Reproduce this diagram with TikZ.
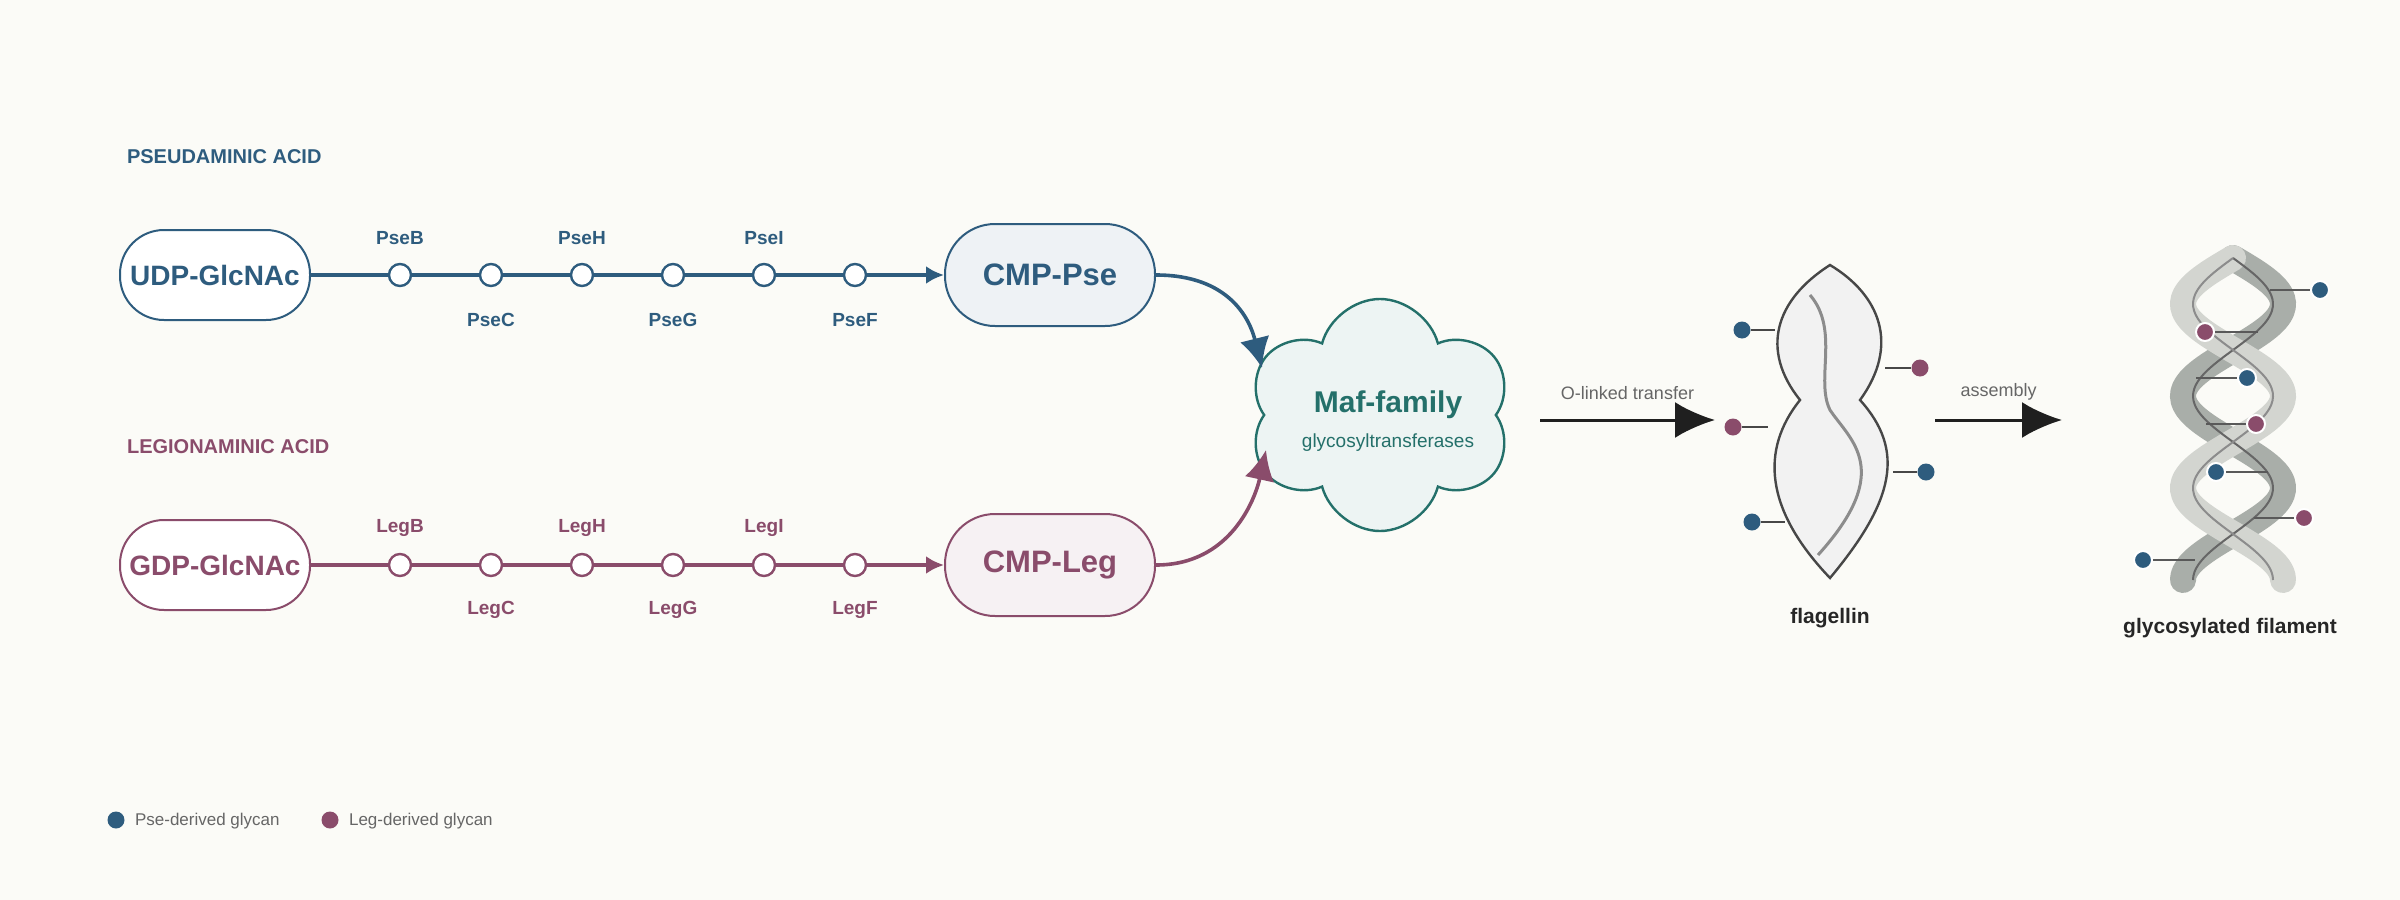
\documentclass[tikz,border=0pt]{standalone}
\usepackage{fontspec}
\setmainfont{Liberation Sans}
\usetikzlibrary{arrows.meta,shapes.symbols}
\definecolor{pseblue}{HTML}{2E5C7E}
\definecolor{legpink}{HTML}{8A4C6B}
\definecolor{mafteal}{HTML}{24706A}
\definecolor{bgpaper}{HTML}{FBFBF7}
\definecolor{txtgray}{HTML}{666666}
\definecolor{strandlight}{HTML}{D3D5D0}
\definecolor{stranddark}{HTML}{A9AEA9}
\tikzset{
	pathtitle/.style={anchor=west,font=\fontsize{10}{12}\selectfont\bfseries},
	sugarbox/.style={draw,rounded corners=22pt,line width=1pt,minimum width=95pt,minimum height=45pt,font=\fontsize{14}{16}\selectfont\bfseries},
	cmpbox/.style={draw,rounded corners=25pt,line width=1pt,minimum width=105pt,minimum height=51pt,font=\fontsize{15.5}{18}\selectfont\bfseries},
	enzdot/.style={circle,draw,fill=white,line width=1.2pt,minimum size=11pt,inner sep=0pt},
	enzlabel/.style={font=\fontsize{9.5}{11}\selectfont\bfseries},
	glydot/.style={circle,fill=#1,minimum size=8.5pt,inner sep=0pt},
	glyring/.style={circle,fill=#1,draw=white,line width=1pt,minimum size=9pt,inner sep=0pt},
	steparrow/.style={line width=1.5pt,-{Latex[length=20pt,width=18pt]}},
	steplabel/.style={font=\fontsize{9}{11}\selectfont,text=txtgray},
	caption/.style={font=\fontsize{10.5}{12}\selectfont\bfseries,text=black!85}
}
\begin{document}
\begin{tikzpicture}[x=0.5pt,y=-0.5pt]
	\fill[bgpaper] (0,0) rectangle (2400,900);
	% pseudaminic acid branch
	\node[pathtitle,text=pseblue] (pt) at (120,157) {PSEUDAMINIC ACID};
	\node[sugarbox,draw=pseblue,text=pseblue,fill=white] (udp) at (215,275) {UDP-GlcNAc};
	\node[cmpbox,draw=pseblue,text=pseblue,fill=pseblue!8] (cpse) at (1050,275) {CMP-Pse};
	\draw[pseblue,line width=2pt,-{Latex[length=9pt,width=9pt]}] (udp) -- (cpse);
	\foreach \x/\name/\lab [count=\i] in {400/pb/PseB,491/pc/PseC,582/ph/PseH,673/pg/PseG,764/pi/PseI,855/pf/PseF}{
		\node[enzdot,draw=pseblue] (\name) at (\x,275) {};
		\ifodd\i
			\node[enzlabel,text=pseblue] at (\x,238) {\lab};
		\else
			\node[enzlabel,text=pseblue] at (\x,320) {\lab};
		\fi
	}
	% legionaminic acid branch
	\node[pathtitle,text=legpink] (lt) at (120,447) {LEGIONAMINIC ACID};
	\node[sugarbox,draw=legpink,text=legpink,fill=white] (gdp) at (215,565) {GDP-GlcNAc};
	\node[cmpbox,draw=legpink,text=legpink,fill=legpink!8] (cleg) at (1050,565) {CMP-Leg};
	\draw[legpink,line width=2pt,-{Latex[length=9pt,width=9pt]}] (gdp) -- (cleg);
	\foreach \x/\name/\lab [count=\i] in {400/lb/LegB,491/lc/LegC,582/lh/LegH,673/lg/LegG,764/li/LegI,855/lf/LegF}{
		\node[enzdot,draw=legpink] (\name) at (\x,565) {};
		\ifodd\i
			\node[enzlabel,text=legpink] at (\x,528) {\lab};
		\else
			\node[enzlabel,text=legpink] at (\x,610) {\lab};
		\fi
	}
	% glycosyltransferase
	\node[cloud,cloud puffs=6,aspect=1.15,draw=mafteal,fill=mafteal!8,line width=1.2pt,minimum width=132pt,minimum height=116pt] (maf) at (1380,415) {};
	\node[font=\fontsize{15}{17}\selectfont\bfseries,text=mafteal] (maft) at (1388,405) {Maf-family};
	\node[font=\fontsize{9.5}{11}\selectfont,text=mafteal] (mafs) at (1388,443) {glycosyltransferases};
	\draw[pseblue,line width=1.8pt,-{Latex[length=15pt,width=15pt]}] (cpse.east) .. controls (1230,275) and (1250,320) .. (1262,368);
	\draw[legpink,line width=1.8pt,-{Latex[length=15pt,width=15pt]}] (cleg.east) .. controls (1230,565) and (1255,500) .. (1266,450);
	% transfer to flagellin
	\coordinate (oa) at (1540,420);
	\coordinate (ob) at (1715,420);
	\draw[steparrow,black!88] (oa) -- (ob) node[steplabel,midway,above=6pt] {O-linked transfer};
	\draw[fill=black!5,draw=black!72,line width=1.2pt] (1830,265)
		.. controls (1880,295) and (1900,345) .. (1860,400)
		.. controls (1905,450) and (1895,500) .. (1830,578)
		.. controls (1765,510) and (1760,450) .. (1800,400)
		.. controls (1760,350) and (1775,300) .. (1830,265) -- cycle;
	\draw[black!45,line width=1.5pt] (1810,295) .. controls (1840,330) and (1815,380) .. (1830,410)
		.. controls (1850,440) and (1895,470) .. (1818,555);
	\node[caption] (flag) at (1830,618) {flagellin};
	\foreach \px/\py/\ex/\c/\nm in {1742/330/1775/pseblue/fa,1920/368/1885/legpink/fb,1733/427/1768/legpink/fc,1926/472/1893/pseblue/fd,1752/522/1785/pseblue/fe}{
		\node[glydot=\c] (\nm) at (\px,\py) {};
		\coordinate (\nm e) at (\ex,\py);
		\draw[black!72,line width=1pt] (\nm) -- (\nm e);
	}
	% assembly
	\coordinate (aa) at (1935,420);
	\coordinate (ab) at (2062,420);
	\draw[steparrow,black!88] (aa) -- (ab) node[steplabel,midway,above=6pt] {assembly};
	\draw[stranddark,line width=13pt,line cap=round] plot[domain=0:322,samples=80,smooth] ({2233+50*sin(1.9565*\x)},258+\x);
	\draw[strandlight,line width=13pt,line cap=round] plot[domain=0:322,samples=80,smooth] ({2233-50*sin(1.9565*\x)},258+\x);
	\draw[black!60,line width=1pt] plot[domain=0:322,samples=80,smooth] ({2233+40*sin(1.9565*\x)},258+\x);
	\draw[black!45,line width=1pt] plot[domain=0:322,samples=80,smooth] ({2233-40*sin(1.9565*\x)},258+\x);
	\node[caption] (fil) at (2230,628) {glycosylated filament};
	\foreach \px/\py/\ex/\c/\nm in {2320/290/2270/pseblue/ga,2205/332/2258/legpink/gb,2247/378/2196/pseblue/gc,2256/424/2206/legpink/gd,2216/472/2268/pseblue/ge,2304/518/2254/legpink/gf,2143/560/2195/pseblue/gg}{
		\coordinate (\nm e) at (\ex,\py);
		\draw[black!65,line width=1pt] (\px,\py) -- (\nm e);
		\node[glyring=\c] (\nm) at (\px,\py) {};
	}
	% legend
	\node[glydot=pseblue] (kp) at (116,820) {};
	\node[anchor=west,font=\fontsize{8.5}{10}\selectfont,text=txtgray] (kpt) at (128,821) {Pse-derived glycan};
	\node[glydot=legpink] (kl) at (330,820) {};
	\node[anchor=west,font=\fontsize{8.5}{10}\selectfont,text=txtgray] (klt) at (342,821) {Leg-derived glycan};
\end{tikzpicture}
\end{document}
